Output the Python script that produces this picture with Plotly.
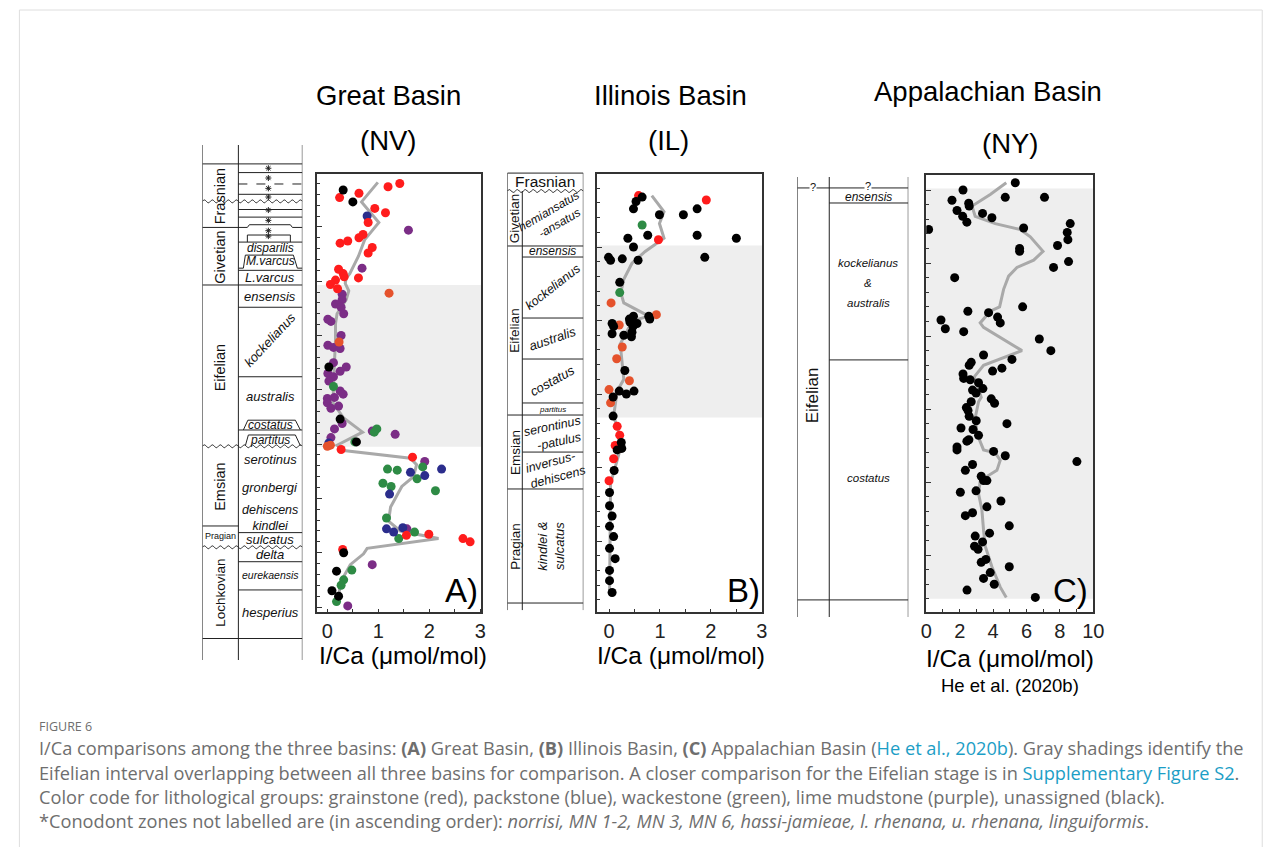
import math
import plotly.graph_objects as go

# page is 1282x855; the browser body keeps its default 8px margin, so the figure is 16px smaller
W, H = 1282, 855
PAD = 8
FW, FH = W - 2 * PAD, H - 2 * PAD
# measured horizontal mapping of the photographed page (page_x -> photo_x = OFF + S * page_x)
S, OFF = 0.9867, 5.7
FONT = "Arial, Liberation Sans, sans-serif"
LC = "#222222"

# ---------------- data ----------------
# Panel A - Great Basin (NV): I/Ca (umol/mol), stratigraphic height (relative units), lithology code
A_ica = [1.42, 1.19, 0.31, 0.62, 0.24, 0.50, 0.93, 1.14, 0.78, 0.80, 1.59, 0.70, 0.62, 0.40, 0.25, 0.88, 0.80,
         0.68, 0.22, 0.31, 0.33, 0.61, 0.16, 0.06, 0.20, 1.21, 0.29, 0.29, 0.16, 0.27, 0.32, 0.01, 0.07, 0.27,
         0.23, 0.01, 0.12, 0.25, 0.12, 0.37, 0.03, 0.25, 0.01, 0.12, 0.03, 0.12, 0.25, 0.31, 0.14, 0.00, 0.00,
         0.22, 0.07, 0.25, 0.29, 0.14, 0.97, 0.88, 0.92, 1.33, 0.07, 0.57, 0.54, 0.03, 0.06, 0.00, 0.27, 1.67,
         1.91, 1.87, 1.18, 1.37, 1.63, 2.24, 1.91, 1.76, 1.09, 1.25, 1.22, 2.12, 1.16, 1.16, 1.48, 1.30, 1.56,
         1.71, 1.40, 1.55, 1.99, 2.66, 2.80, 0.30, 0.32, 0.88, 0.48, 0.18, 0.32, 0.27, 0.09, 0.22, 0.18, 0.40]
A_h = [39.0, 38.7, 38.4, 38.1, 37.7, 37.3, 36.7, 36.3, 36.0, 35.4, 34.7, 34.3, 34.0, 33.7, 33.5, 33.1, 32.6,
       31.2, 31.1, 30.7, 30.4, 30.3, 30.1, 29.7, 29.3, 28.9, 28.8, 28.3, 27.9, 27.6, 27.0, 26.5, 26.3, 25.0,
       24.4, 24.1, 23.9, 23.8, 22.5, 22.1, 22.1, 21.7, 21.5, 21.2, 20.8, 20.3, 19.9, 19.6, 19.3, 19.2, 18.8,
       18.5, 18.3, 17.3, 16.9, 16.4, 16.4, 16.2, 16.1, 15.9, 15.6, 15.2, 15.2, 15.1, 14.9, 14.8, 14.5, 13.8,
       13.4, 12.9, 12.7, 12.6, 12.4, 12.7, 12.1, 11.8, 11.4, 11.1, 10.4, 10.7, 8.2, 7.2, 7.3, 6.9, 7.2,
       6.9, 6.3, 6.6, 6.7, 6.3, 6.0, 5.3, 5.0, 3.9, 3.4, 3.3, 2.5, 2.0, 1.5, 1.0, 0.5, 0.1]
A_lith = list("RRKRRKRRBRPRRRRRR" "PRRRRRRROPPPPPPPPO" "PPPPPKPPPPGPPPPPP" "PKPPGPGPPKGBOORRP"
              "GGGBBBGGGBGGBBBPG" "GRRRRRKPGKGGKKGPK")
A_fit_ica = [0.99, 0.67, 1.01, 0.73, 0.61, 0.44, 0.37, 0.35, 0.42, 0.37, 0.19, 0.16, 0.16, 0.14, 0.13, 0.11,
             0.32, 0.69, 0.19, 0.32, 1.63, 1.75, 1.69, 1.46, 1.24, 1.20, 1.43, 2.18, 0.78, 0.71, 0.45, 0.32,
             0.24, 0.20]
A_fit_h = [39.1, 37.3, 35.4, 33.8, 32.3, 30.7, 30.3, 29.8, 29.1, 28.3, 27.0, 26.1, 24.6, 23.1, 21.6, 18.8,
           17.4, 16.1, 14.9, 14.4, 13.7, 13.1, 12.0, 11.1, 9.2, 7.9, 7.0, 6.3, 5.4, 4.9, 3.9, 2.8, 1.6, 0.3]
A_eifelian = (14.75, 29.65)

# Panel B - Illinois Basin (IL)
B_ica = [0.58, 0.65, 0.53, 0.48, 1.91, 1.73, 1.46, 0.99, 0.65, 0.76, 0.37, 0.97, 1.73, 2.50, 0.48, -0.01,
         0.03, 0.26, 0.57, 1.88, 0.21, 0.21, 0.04, 0.93, 0.78, 0.80, 0.48, 0.40, 0.55, 0.41, 0.47, 0.06, 0.09,
         0.06, 0.29, 0.45, 0.44, 0.20, 0.26, 0.15, 0.31, 0.40, 0.00, 0.20, 0.34, 0.49, 0.08, 0.03, 0.08, 0.16,
         0.21, 0.24, 0.25, 0.12, 0.20, 0.16, 0.09, 0.10, 0.00, 0.01, 0.01, 0.06, 0.01, 0.09, 0.01, 0.12, 0.01,
         0.01, 0.06]
B_h = [28.5, 28.4, 28.1, 27.6, 28.2, 27.6, 27.2, 27.2, 26.5, 25.8, 25.6, 25.5, 25.8, 25.6, 25.0, 24.3,
       24.1, 24.2, 24.1, 24.3, 22.6, 21.9, 21.2, 20.4, 20.3, 20.1, 20.3, 20.1, 19.8, 19.9, 19.6, 19.8, 19.6,
       19.1, 19.0, 19.2, 18.9, 19.7, 18.2, 17.4, 16.6, 15.9, 15.3, 15.2, 15.0, 15.2, 14.8, 14.4, 13.5, 12.8,
       12.2, 11.7, 11.3, 11.5, 11.3, 11.2, 10.6, 9.8, 9.1, 8.3, 7.4, 6.7, 6.0, 5.3, 4.5, 3.8, 3.0,
       2.3, 1.5]
B_lith = list("RKKKRKKKGKKRKKKKK" "KKKKGOOKKKKKKKKKK" "KKKOOOKOOKKKKOKRR" "KKRRKRKRKKKKKKKKK" "K")
B_fit_ica = [0.84, 1.08, 0.99, 1.08, 0.71, 0.45, 0.29, 0.23, 0.29, 0.61, 0.78, 0.58, 0.40, 0.22, 0.26, 0.29,
             0.16, 0.09, 0.18, 0.25, 0.16, 0.03, 0.01]
B_fit_h = [28.5, 27.4, 26.6, 25.6, 24.7, 23.9, 22.8, 21.9, 21.2, 20.6, 20.3, 20.1, 19.6, 18.4, 17.1, 16.0,
           15.2, 13.5, 12.5, 11.6, 10.5, 8.9, 1.4]
B_eifelian = (13.4, 25.1)

# Panel C - Appalachian Basin (NY), He et al. (2020b)
C_ica = [5.33, 2.20, 4.73, 7.08, 1.54, 2.54, 2.57, 1.84, 2.18, 3.37, 2.43, 3.93, 0.14, 5.83, 8.62, 8.44, 8.48,
         7.86, 5.59, 5.59, 8.52, 7.62, 1.70, 5.77, 2.49, 3.73, 4.27, 4.43, 0.88, 1.14, 2.24, 6.77, 7.46, 3.43,
         5.13, 2.69, 2.57, 4.53, 3.97, 2.20, 2.24, 2.63, 3.13, 3.39, 2.77, 2.98, 3.89, 4.09, 2.69, 2.40, 2.50,
         2.57, 2.99, 4.83, 2.08, 2.80, 3.13, 2.43, 2.55, 1.84, 1.84, 4.03, 4.73, 9.02, 2.77, 2.34, 3.29, 3.43,
         3.63, 2.98, 2.04, 4.47, 3.63, 2.77, 2.34, 4.97, 3.79, 2.93, 3.37, 2.89, 3.10, 3.57, 3.29, 4.97, 3.83,
         3.43, 4.07, 2.44, 6.53]
C_h = [30.5, 30.0, 29.5, 29.5, 29.3, 29.1, 28.9, 28.6, 28.2, 28.4, 27.8, 28.1, 27.3, 27.4, 27.7, 27.1, 26.6,
       26.2, 26.0, 25.8, 25.1, 24.7, 24.0, 22.0, 21.7, 21.6, 21.3, 20.9, 21.1, 20.5, 20.3, 19.8, 19.0, 18.7,
       18.4, 18.2, 18.0, 17.8, 17.6, 17.4, 17.1, 17.0, 16.8, 16.4, 16.3, 16.1, 15.7, 15.4, 15.5, 15.1, 14.9,
       14.5, 14.2, 14.0, 13.7, 13.6, 13.2, 12.8, 12.9, 12.4, 12.2, 12.1, 11.8, 11.4, 11.2, 10.8, 10.4, 10.1,
       10.1, 9.4, 9.3, 8.7, 8.3, 7.9, 7.7, 7.0, 6.5, 6.3, 5.9, 5.6, 5.4, 4.7, 4.5, 4.2, 3.8,
       3.4, 3.0, 2.6, 2.1]
C_fit_ica = [4.79, 3.83, 2.74, 2.93, 4.13, 5.63, 6.23, 6.99, 6.43, 5.43, 4.93, 4.63, 4.39, 3.83, 3.23, 3.43,
             5.73, 4.63, 3.43, 2.87, 3.07, 3.29, 3.13, 2.93, 3.04, 3.43, 4.13, 4.43, 4.23, 3.23, 3.13, 3.33,
             3.43, 3.53, 3.93, 4.43, 4.79]
C_fit_h = [30.5, 29.7, 28.9, 28.2, 27.7, 27.3, 26.8, 25.8, 25.2, 24.7, 24.1, 23.2, 22.0, 21.7, 20.9, 20.6,
           19.0, 18.5, 18.0, 17.2, 16.5, 15.8, 15.5, 14.4, 13.3, 12.2, 12.0, 11.5, 10.8, 10.1, 9.2, 8.1,
           6.7, 5.6, 4.2, 2.8, 2.1]
C_eifelian = (2.0, 30.1)

# unlabelled conodont zones (asterisks) in the Great Basin column, zone mid-heights
A_star_h = [40.4, 39.5, 38.55, 37.75, 36.55, 35.6, 34.65, 34.15]

LITHO_COLORS = {"R": "#ff1c1c", "O": "#e5522c", "B": "#2b2d8c", "G": "#2e8b45", "P": "#7b2d86", "K": "#000000"}
LITHO_ORDER = ["P", "G", "B", "O", "R", "K"]

# ---------------- helpers ----------------
def fx(px):
    page = (px - OFF) / S
    return (page - PAD) / FW

def fy(py):
    return 1 - (py - PAD) / FH

fig = go.Figure()
shapes = []
anns = []

def add_panel(ica, h, lith, fit_x, fit_y, xa, ya):
    fig.add_trace(go.Scatter(x=fit_x, y=fit_y, mode="lines", line=dict(color="#a9a9a9", width=3),
                             xaxis=xa, yaxis=ya, hoverinfo="skip", showlegend=False))
    for code in LITHO_ORDER:
        xs = [v for v, c in zip(ica, lith) if c == code]
        ys = [v for v, c in zip(h, lith) if c == code]
        if xs:
            fig.add_trace(go.Scatter(x=xs, y=ys, mode="markers",
                                     marker=dict(color=LITHO_COLORS[code], size=9, line=dict(width=0)),
                                     xaxis=xa, yaxis=ya, showlegend=False))

add_panel(A_ica, A_h, A_lith, A_fit_ica, A_fit_h, "x", "y")
add_panel(B_ica, B_h, B_lith, B_fit_ica, B_fit_h, "x2", "y2")
add_panel(C_ica, C_h, ["K"] * len(C_ica), C_fit_ica, C_fit_h, "x3", "y3")

# asterisk symbols for the unlabelled zones in column A
fig.add_trace(go.Scatter(x=[66] * len(A_star_h), y=A_star_h, mode="markers", xaxis="x4", yaxis="y4",
                         marker=dict(symbol="asterisk-open", size=5, color="#222",
                                     line=dict(color="#222", width=1)),
                         showlegend=False, hoverinfo="skip"))
for k in (5, 6):
    fig.add_trace(go.Scatter(x=[None], y=[None], xaxis=f"x{k}", yaxis=f"y{k}", showlegend=False, hoverinfo="skip"))

# Eifelian shading
for ax, (lo, hi) in (("", A_eifelian), ("2", B_eifelian), ("3", C_eifelian)):
    shapes.append(dict(type="rect", xref=f"x{ax} domain", yref=f"y{ax}", x0=0, x1=1, y0=lo, y1=hi,
                       fillcolor="#eeeeee", line=dict(width=0), layer="below"))

TICKFONT = dict(family=FONT, size=20, color="#222")

def data_xaxis(dom, rng, dtick, minor, anchor):
    return dict(domain=dom, range=rng, anchor=anchor, tick0=0, dtick=dtick, ticks="inside", ticklen=3,
                tickwidth=1, tickcolor="#333", showline=True, mirror=True, linecolor="#333", linewidth=1.5,
                showgrid=False, zeroline=False, fixedrange=True, tickfont=TICKFONT,
                minor=dict(tick0=0, dtick=minor, ticks="inside", ticklen=3, tickcolor="#333", showgrid=False))

def data_yaxis(dom, rng, anchor):
    return dict(domain=dom, range=rng, anchor=anchor, tick0=0, dtick=5, ticks="inside", ticklen=5,
                tickwidth=1, tickcolor="#333", showticklabels=False, showline=True, mirror=True,
                linecolor="#333", linewidth=1.5, showgrid=False, zeroline=False, fixedrange=True,
                minor=dict(tick0=0, dtick=1, ticks="inside", ticklen=3, tickcolor="#333", showgrid=False))

def hidden(dom, rng, anchor):
    return dict(domain=dom, range=rng, anchor=anchor, visible=False, fixedrange=True)

xA = data_xaxis([fx(317), fx(481)], [-0.196, 3.02], 1, 0.5, "y")
xB = data_xaxis([fx(597), fx(762)], [-0.23, 3.01], 1, 0.5, "y2")
xC = data_xaxis([fx(926), fx(1093)], [0, 10], 2, 1, "y3")
yA = data_yaxis([fy(612), fy(174)], [-0.46, 39.87], "x")
yB = data_yaxis([fy(612), fy(174)], [0.17, 29.97], "x2")
yC = data_yaxis([fy(612), fy(175)], [1.10, 31.03], "x3")

# column subplots (same vertical scale as their data panels)
colA_x = hidden([fx(202), fx(302)], [0, 100], "y4")
colA_y = hidden([fy(660), fy(145)], [-4.88, 42.54], "x4")
colB_x = hidden([fx(507), fx(583)], [0, 100], "y5")
colB_y = hidden([fy(612), fy(170)], [0.17, 30.24], "x5")
colC_x = hidden([fx(797), fx(908)], [0, 100], "y6")
colC_y = hidden([fy(617), fy(177)], [0.75, 30.89], "x6")

def line(k, y, x0=0, x1=100, dash=None, width=1):
    shapes.append(dict(type="line", xref=f"x{k}", yref=f"y{k}", x0=x0, x1=x1, y0=y, y1=y,
                       line=dict(color=LC, width=width, dash=dash)))

def vline(k, x, y0, y1, width=1):
    shapes.append(dict(type="line", xref=f"x{k}", yref=f"y{k}", x0=x, x1=x, y0=y0, y1=y1,
                       line=dict(color=LC, width=width)))

def path(k, pts):
    d = "M " + " L ".join(f"{a},{b}" for a, b in pts)
    shapes.append(dict(type="path", xref=f"x{k}", yref=f"y{k}", path=d, line=dict(color=LC, width=1)))

def wavy(k, y, amp, period, x0=0, x1=100):
    n = int((x1 - x0) / period * 8)
    pts = []
    for i in range(n + 1):
        x = x0 + (x1 - x0) * i / n
        pts.append((round(x, 2), round(y + amp * math.sin(2 * math.pi * (x - x0) / period), 3)))
    path(k, pts)

def text(t, x, y, xref, yref, size, angle=0, italic=False, color="#111", bg=None, anchor="center"):
    if italic:
        t = f"<i>{t}</i>"
    a = dict(text=t, x=x, y=y, xref=xref, yref=yref, showarrow=False, textangle=angle,
             font=dict(family=FONT, size=size, color=color), xanchor=anchor, yanchor="middle")
    if bg:
        a["bgcolor"] = bg
        a["borderpad"] = 0
    anns.append(a)

# ---------- Column A (Great Basin) ----------
A_mid = 36
vline(4, 0, -4.88, 42.54); vline(4, A_mid, -4.88, 42.54); vline(4, 100, -4.88, 42.54)
line(4, 40.8)
line(4, 40.0, A_mid)
line(4, 38.95, A_mid, dash="dash")
line(4, 38.0, A_mid)
wavy(4, 37.35, 0.13, 8)
line(4, 36.6, A_mid)
line(4, 35.9, A_mid)
path(4, [(0, 34.95), (45, 34.95), (47, 35.2), (88, 35.2), (90, 34.95), (100, 34.95)])
line(4, 33.6, A_mid)
vline(4, 45, 33.6, 34.25); vline(4, 88, 33.6, 34.25)
line(4, 34.25, 45, 88)
path(4, [(A_mid, 31.2), (41, 31.2), (43, 32.4), (91, 32.4), (95, 31.2), (100, 31.2)])
line(4, 31.0, A_mid)
line(4, 29.65)
line(4, 27.6, A_mid)
line(4, 21.2, A_mid)
path(4, [(41, 16.3), (45.5, 17.2), (93, 17.2), (98, 16.3)])
line(4, 16.3, A_mid)
path(4, [(43, 14.85), (46, 15.84), (93, 15.84), (98, 14.85)])
wavy(4, 14.8, 0.13, 8)
line(4, 7.46, 0, A_mid)
line(4, 6.85, A_mid)
wavy(4, 5.5, 0.13, 8)
line(4, 4.17, A_mid)
line(4, 1.57, A_mid)
line(4, -2.9)

A_stages = [("Frasnian", 37.85, -90, 14.5), ("Givetian", 32.2, -90, 14.5), ("Eifelian", 22.1, -90, 14.5),
            ("Emsian", 11.1, -90, 14.5), ("Pragian", 6.5, 0, 9), ("Lochkovian", 1.34, -90, 13.5)]
for t, y, ang, s in A_stages:
    text(t, 18, y, "x4", "y4", s, ang)
A_zones = [("disparilis", 33.05, 0, 12), ("M.varcus", 31.86, 0, 12), ("L.varcus", 30.3, 0, 13),
           ("ensensis", 28.55, 0, 13), ("kockelianus", 24.6, -47, 13), ("australis", 19.4, 0, 13),
           ("costatus", 16.76, 0, 12), ("partitus", 15.35, 0, 12), ("serotinus", 13.6, 0, 13),
           ("gronbergi", 10.96, 0, 13), ("dehiscens<br>kindlei", 8.2, 0, 12.5),
           ("sulcatus", 6.17, 0, 13), ("delta", 4.79, 0, 13), ("eurekaensis", 2.95, 0, 10.5),
           ("hesperius", -0.46, 0, 13)]
for t, y, ang, s in A_zones:
    text(t, 68, y, "x4", "y4", s, ang, italic=True)

# ---------- Column B (Illinois Basin) ----------
B_mid = 19.7
vline(5, 0, 0.3, 30.03); vline(5, 100, 0.3, 30.03); vline(5, B_mid, 0.3, 28.81)
line(5, 30.03)
wavy(5, 28.81, 0.095, 10.5)
line(5, 25.07)
line(5, 24.32, B_mid)
line(5, 20.17, B_mid)
line(5, 17.38, B_mid)
line(5, 14.39, B_mid)
line(5, 13.57)
line(5, 11.05, B_mid)
line(5, 8.54)
line(5, 0.78)
text("Frasnian", 50, 29.45, "x5", "y5", 15.5)
for t, y in (("Givetian", 26.94), ("Eifelian", 19.3), ("Emsian", 11.05), ("Pragian", 4.66)):
    text(t, 9.85, y, "x5", "y5", 13.5, -90)
B_zones = [("hemiansatus<br>  -ansatus", 60, 26.95, -30, 12), ("ensensis", 60, 24.7, 0, 12),
           ("kockelianus", 60, 22.3, -38, 12.5), ("australis", 60, 18.8, -19, 13), ("costatus", 60, 15.9, -29, 13),
           ("partitus", 60, 13.98, 0, 8), ("serontinus<br>  -patulus", 62, 12.3, -12, 12.5),
           ("inversus-<br>  dehiscens", 60, 9.8, -15, 12.5), ("kindlei &<br>sulcatus", 57, 4.66, -90, 13)]
for t, x, y, ang, s in B_zones:
    text(t, x, y, "x5", "y5", s, ang, italic=True)

# ---------- Column C (Appalachian Basin) ----------
C_mid = 28.8
vline(6, 0, 0.75, 30.89); vline(6, C_mid, 0.75, 30.89); vline(6, 100, 0.75, 30.89)
line(6, 30.14)
line(6, 29.11, C_mid)
line(6, 18.36, C_mid)
line(6, 1.92)
text("?", 14.4, 30.2, "x6", "y6", 11, bg="white")
text("?", 64, 30.3, "x6", "y6", 11, bg="white")
text("ensensis", 64, 29.55, "x6", "y6", 12, italic=True)
text("kockelianus", 64, 25.0, "x6", "y6", 11.5, italic=True)
text("&", 64, 23.63, "x6", "y6", 11.5, italic=True)
text("australis", 64, 22.26, "x6", "y6", 11.5, italic=True)
text("costatus", 64, 10.27, "x6", "y6", 11.5, italic=True)
text("Eifelian", 14.4, 15.96, "x6", "y6", 17, -90)

# ---------- titles and labels ----------
for t, x, y, s in (("Great Basin", 388, 95, 27.5), ("(NV)", 388, 140, 27.5), ("Illinois Basin", 670, 95, 27.5),
                   ("(IL)", 668, 140, 27.5), ("Appalachian Basin", 988, 91, 27.5), ("(NY)", 1010, 143, 27.5),
                   ("A)", 461, 590, 33), ("B)", 743, 590, 33), ("C)", 1070, 590, 33),
                   ("I/Ca (μmol/mol)", 403, 655, 24.5), ("I/Ca (μmol/mol)", 681, 655, 24.5),
                   ("I/Ca (μmol/mol)", 1010, 658, 24.5), ("He et al. (2020b)", 1010, 685, 18.5)):
    text(t, fx(x), fy(y), "paper", "paper", s, color="#000")

# ---------- caption ----------
CAP = "#6e6e6e"
TEAL = "#1c9ec6"
CFONT = "Open Sans, Noto Sans, sans-serif"
caption = [
    ("FIGURE 6", 726, 12.5),
    ("I/Ca comparisons among the three basins: <b>(A)</b> Great Basin, <b>(B)</b> Illinois Basin, "
     "<b>(C)</b> Appalachian Basin (<span style='color:%s'>He et al., 2020b</span>). Gray shadings identify the" % TEAL,
     748, 18.2),
    ("Eifelian interval overlapping between all three basins for comparison. A closer comparison for the "
     "Eifelian stage is in <span style='color:%s'>Supplementary Figure S2</span>." % TEAL, 773, 18.2),
    ("Color code for lithological groups: grainstone (red), packstone (blue), wackestone (green), "
     "lime mudstone (purple), unassigned (black).", 797, 18.2),
    ("*Conodont zones not labelled are (in ascending order): <i>norrisi, MN 1-2, MN 3, MN 6, hassi-jamieae, "
     "l. rhenana, u. rhenana, linguiformis</i>.", 821, 18.2),
]
for t, y, s in caption:
    anns.append(dict(text=t, x=fx(37), y=fy(y), xref="paper", yref="paper", showarrow=False,
                     xanchor="left", yanchor="middle", font=dict(family=CFONT, size=s, color=CAP)))

# outer card frame
shapes.append(dict(type="rect", xref="paper", yref="paper", x0=fx(19), x1=fx(1262), y0=fy(880), y1=fy(10),
                   line=dict(color="#dedede", width=1), fillcolor="rgba(0,0,0,0)", layer="below"))

fig.update_layout(
    width=FW, height=FH, autosize=False, margin=dict(l=0, r=0, t=0, b=0),
    paper_bgcolor="white", plot_bgcolor="white", showlegend=False,
    xaxis=xA, yaxis=yA, xaxis2=xB, yaxis2=yB, xaxis3=xC, yaxis3=yC,
    xaxis4=colA_x, yaxis4=colA_y, xaxis5=colB_x, yaxis5=colB_y, xaxis6=colC_x, yaxis6=colC_y,
    shapes=shapes, annotations=anns, font=dict(family=FONT),
)

fig.write_html("out.html", config={"displayModeBar": False, "responsive": False})
